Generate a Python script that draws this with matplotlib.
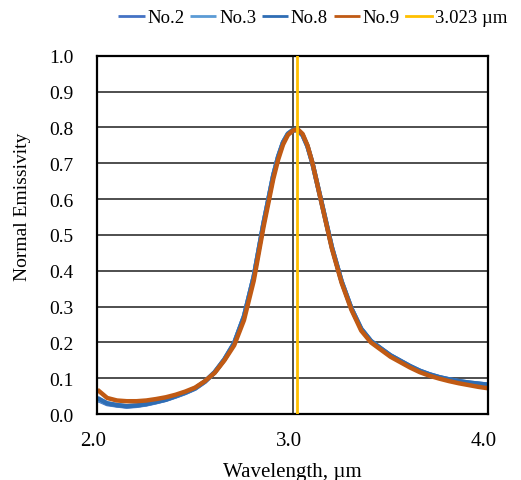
import matplotlib
matplotlib.use("Agg")
import matplotlib.pyplot as plt
from matplotlib.transforms import ScaledTranslation

plt.rcParams['font.family'] = ['Liberation Serif', 'DejaVu Serif']

wavelength = [2.00, 2.05, 2.10, 2.15, 2.20, 2.25, 2.30, 2.35, 2.40, 2.45,
              2.50, 2.55, 2.60, 2.65, 2.70, 2.75, 2.80, 2.85, 2.90, 2.925,
              2.95, 2.975, 3.00, 3.025, 3.05, 3.075, 3.10, 3.15, 3.20, 3.25,
              3.30, 3.35, 3.40, 3.45, 3.50, 3.55, 3.60, 3.65, 3.70, 3.75,
              3.80, 3.85, 3.90, 3.95, 4.00]

no2 = [0.040, 0.028, 0.024, 0.021, 0.023, 0.027, 0.033, 0.040, 0.049, 0.059,
       0.071, 0.090, 0.116, 0.152, 0.198, 0.272, 0.383, 0.532, 0.666, 0.718,
       0.758, 0.782, 0.792, 0.792, 0.778, 0.747, 0.700, 0.583, 0.465, 0.370,
       0.295, 0.238, 0.204, 0.183, 0.164, 0.149, 0.134, 0.121, 0.111, 0.103,
       0.097, 0.092, 0.088, 0.085, 0.082]
no3 = [0.042, 0.030, 0.025, 0.022, 0.024, 0.028, 0.034, 0.041, 0.050, 0.060,
       0.072, 0.091, 0.117, 0.153, 0.199, 0.273, 0.384, 0.533, 0.667, 0.719,
       0.759, 0.783, 0.793, 0.793, 0.779, 0.748, 0.701, 0.584, 0.466, 0.370,
       0.295, 0.238, 0.204, 0.183, 0.163, 0.148, 0.133, 0.120, 0.110, 0.102,
       0.096, 0.091, 0.087, 0.084, 0.081]
no8 = [0.045, 0.030, 0.025, 0.022, 0.024, 0.028, 0.034, 0.040, 0.050, 0.060,
       0.072, 0.091, 0.117, 0.153, 0.198, 0.272, 0.383, 0.532, 0.666, 0.718,
       0.758, 0.782, 0.792, 0.793, 0.779, 0.748, 0.702, 0.585, 0.466, 0.370,
       0.295, 0.238, 0.204, 0.184, 0.164, 0.149, 0.134, 0.121, 0.111, 0.103,
       0.097, 0.092, 0.088, 0.085, 0.082]
no9 = [0.068, 0.045, 0.038, 0.036, 0.036, 0.038, 0.042, 0.047, 0.054, 0.063,
       0.074, 0.092, 0.115, 0.150, 0.192, 0.262, 0.372, 0.522, 0.656, 0.710,
       0.752, 0.779, 0.791, 0.795, 0.782, 0.750, 0.702, 0.582, 0.462, 0.366,
       0.291, 0.233, 0.200, 0.180, 0.160, 0.145, 0.130, 0.117, 0.107, 0.099,
       0.092, 0.086, 0.081, 0.076, 0.072]
marker_wl = 3.023

series_names = ['No.2', 'No.3', 'No.8', 'No.9']
series_vals = [no2, no3, no8, no9]
colors = ['#4472C4', '#5B9BD5', '#2E6DB4', '#C05A14']

fig = plt.figure(figsize=(5.21, 4.81), dpi=100)
ax = fig.add_axes([0.187, 0.137, 0.750, 0.745])

for name, vals, c in zip(series_names, series_vals, colors):
    ax.plot(wavelength, vals, color=c, lw=3.2, label=name,
            solid_capstyle='butt', solid_joinstyle='round')
ax.axvline(marker_wl, color='#FFC000', lw=2.0, label='3.023 µm', zorder=3)

ax.set_xlim(2.0, 4.0)
ax.set_ylim(0.0, 1.0)
ax.set_xticks([2.0, 3.0, 4.0])
ax.set_xticklabels(['2.0', '3.0', '4.0'])
ax.set_yticks([i / 10 for i in range(11)])
ax.set_yticklabels([f'{i/10:.1f}' for i in range(11)])
ax.tick_params(length=0, labelsize=14)
ax.tick_params(axis='x', pad=12, labelsize=15)
ax.tick_params(axis='y', pad=17)
shift = ScaledTranslation(-4 / 100, 0, fig.dpi_scale_trans)
for lab in ax.get_xticklabels():
    lab.set_transform(lab.get_transform() + shift)
ax.grid(True, color='#404040', lw=1.3)
ax.set_axisbelow(True)
for s in ax.spines.values():
    s.set_color('black')
    s.set_linewidth(1.6)

ax.set_xlabel('Wavelength, µm', fontsize=15, labelpad=9)
ax.set_ylabel('Normal Emissivity', fontsize=14)
ax.yaxis.set_label_coords(-0.17, 0.58)

leg = fig.legend(loc='upper center', bbox_to_anchor=(0.6, 1.0), ncol=5, frameon=False,
                 fontsize=13.5, handlelength=1.4, handletextpad=0.15, columnspacing=0.3,
                 borderaxespad=0.15)
for ln in leg.get_lines():
    ln.set_linewidth(2.0)

fig.savefig('out.png', dpi=100)
